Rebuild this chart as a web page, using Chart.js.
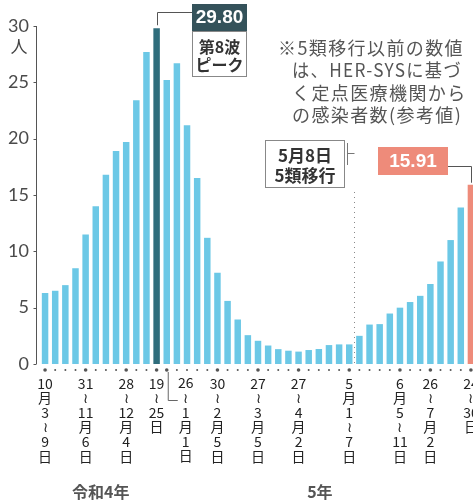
<!DOCTYPE html>
<html><head><meta charset="utf-8">
<script src="https://cdn.jsdelivr.net/npm/chart.js@4/dist/chart.umd.min.js"></script>
<style>html,body{margin:0;padding:0;background:#fff;overflow:hidden;width:473px;height:502px}canvas{display:block}</style>
</head><body><canvas id="c" width="476" height="502"></canvas>
<script>
// weekly infections per sentinel medical institution (persons)
const values = [6.3,6.5,7.0,8.5,11.5,14.0,16.8,18.9,19.7,23.4,
  27.7,29.80,25.2,26.7,21.2,16.5,11.2,8.1,5.6,3.95,
  2.56,2.06,1.64,1.32,1.18,1.1,1.24,1.33,1.68,1.74,
  1.74,2.5,3.5,3.54,4.48,5.0,5.5,6.05,7.1,9.1,
  11.0,13.9,15.91];
const tickLabels = [
  ['10','月','3','≀','9','日'], '', '', '',
  ['31','≀','11','月','6','日'], '', '', '',
  ['28','≀','12','月','4','日'], '', '',
  ['19','≀','25','日'],
  ['26','≀','1','月','1','日'], '', '', '', '',
  ['30','≀','2','月','5','日'], '', '', '',
  ['27','≀','3','月','5','日'], '', '', '',
  ['27','≀','4','月','2','日'], '', '', '', '',
  ['5','月','1','≀','7','日'], '', '', '', '',
  ['6','月','5','≀','11','日'], '', '',
  ['26','≀','7','月','2','日'], '', '', '',
  ['24','≀','30','日']
];
const yTicks = [0,5,10,15,20,25,30];
const yUnit = '人';
const peakIndex = 11;       // 第8波ピーク
const latestIndex = 42;     // latest week
const shiftIndex = 31;      // first week after 5類移行 (5月8日)
const displacedLabelIndex = 12;
const peakLabel = ['第8波','ピーク'];
const shiftLabel = ['5月8日','5類移行'];
const noteLines = ['※5類移行以前の数値','は、HER-SYSに基づ','く定点医療機関から','の感染者数(参考値)'];
const yearLabels = [{text:'令和4年', at:5.5},{text:'5年', at:27.1}];

const C_BAR = '#6cc8e6', C_PEAK = '#2f6d7c', C_LATEST = '#ee8b7a', C_DARKBOX = '#34525a';
const JP = '"Noto Sans CJK JP", sans-serif';
const colors = values.map((v,i)=> i===peakIndex ? C_PEAK : (i===latestIndex ? C_LATEST : C_BAR));

const deco = {
  id:'deco',
  afterDraw(chart){
    const {ctx, chartArea:a, scales:{x,y}} = chart;
    ctx.save();
    const ax = Math.round(a.left - 4) + 0.5;
    const y0 = y.getPixelForValue(0), yTop = y.getPixelForValue(30);
    // y axis line and ticks
    ctx.strokeStyle = '#555'; ctx.lineWidth = 1;
    ctx.beginPath(); ctx.moveTo(ax, yTop); ctx.lineTo(ax, y0);
    yTicks.forEach(t => { const py = Math.round(y.getPixelForValue(t))+0.5; ctx.moveTo(ax-3, py); ctx.lineTo(ax, py); });
    ctx.stroke();
    // unit
    ctx.fillStyle = '#444'; ctx.font = '17px '+JP; ctx.textAlign='center'; ctx.textBaseline='middle';
    ctx.fillText(yUnit, 19, 47);
    // dots under axis
    ctx.fillStyle = '#555';
    values.forEach((v,i)=>{
      const px = x.getPixelForValue(i);
      const big = tickLabels[i] !== '';
      ctx.beginPath(); ctx.arc(px, 370, big?1.8:1.0, 0, Math.PI*2); ctx.fill();
    });
    // displaced label
    const dpx = x.getPixelForValue(displacedLabelIndex);
    ctx.strokeStyle = '#666';
    ctx.beginPath(); ctx.moveTo(dpx+1.5, 372); ctx.lineTo(dpx+1.5, 400.5); ctx.lineTo(dpx+11, 400.5); ctx.stroke();
    ctx.fillStyle = '#222'; ctx.font = '14px '+JP; ctx.textAlign='center'; ctx.textBaseline='middle';
    tickLabels[displacedLabelIndex].forEach((s,k)=> ctx.fillText(s, dpx+19, 383 + k*14.6));
    // peak annotation
    const ppx = x.getPixelForValue(peakIndex), ptop = y.getPixelForValue(values[peakIndex]);
    ctx.strokeStyle = '#555';
    ctx.beginPath(); ctx.moveTo(Math.round(ppx)+0.5, ptop-3); ctx.lineTo(Math.round(ppx)+0.5, 12.5); ctx.lineTo(192, 12.5); ctx.stroke();
    ctx.fillStyle = C_DARKBOX; ctx.fillRect(192, 4, 55, 27);
    ctx.fillStyle = '#fff'; ctx.font = 'bold 19px "Liberation Sans", Arial, sans-serif';
    ctx.fillText(values[peakIndex].toFixed(2), 219.5, 18);
    ctx.fillStyle = '#fff'; ctx.fillRect(192, 31, 55, 46);
    ctx.strokeStyle = '#888'; ctx.strokeRect(192.5, 31.5, 54, 45);
    ctx.fillStyle = '#333'; ctx.font = 'bold 16px '+JP;
    ctx.fillText(peakLabel[0], 219.5, 47); ctx.fillText(peakLabel[1], 219.5, 65);
    // note
    ctx.fillStyle = '#555'; ctx.font = '18px '+JP; ctx.textAlign='left';
    ctx.letterSpacing = '1.4px';
    ctx.fillText(noteLines[0], 278, 48);
    ctx.fillText(noteLines[1], 292, 70, 170);
    ctx.fillText(noteLines[2], 292, 93);
    ctx.fillText(noteLines[3], 292, 115);
    ctx.letterSpacing = '0px';
    // 5類移行 annotation
    const sx = Math.round((x.getPixelForValue(shiftIndex-1)+x.getPixelForValue(shiftIndex))/2)+0.5;
    ctx.fillStyle = '#fff'; ctx.fillRect(265, 140, 80, 48);
    ctx.strokeStyle = '#888'; ctx.strokeRect(265.5, 140.5, 79, 47);
    ctx.fillStyle = '#333'; ctx.font = 'bold 17px '+JP; ctx.textAlign='center';
    ctx.fillText(shiftLabel[0], 305, 156); ctx.fillText(shiftLabel[1], 305, 176);
    ctx.strokeStyle = '#777';
    ctx.beginPath(); ctx.moveTo(347.5, 143); ctx.lineTo(347.5, 165); ctx.moveTo(347.5, 153.5); ctx.lineTo(sx, 153.5); ctx.stroke();
    ctx.setLineDash([1,4]); ctx.strokeStyle = '#888';
    ctx.beginPath(); ctx.moveTo(sx, 192); ctx.lineTo(sx, y0); ctx.stroke();
    ctx.setLineDash([]);
    // latest annotation
    const lpx = x.getPixelForValue(latestIndex), ltop = y.getPixelForValue(values[latestIndex]);
    ctx.fillStyle = C_LATEST; ctx.fillRect(378, 147, 70, 28);
    ctx.fillStyle = '#fff'; ctx.font = 'bold 19px "Liberation Sans", Arial, sans-serif';
    ctx.fillText(values[latestIndex].toFixed(2), 413, 161.5);
    ctx.strokeStyle = '#555';
    ctx.beginPath(); ctx.moveTo(448, 166.5); ctx.lineTo(Math.round(lpx)+0.5, 166.5); ctx.lineTo(Math.round(lpx)+0.5, ltop-2); ctx.stroke();
    // year labels
    ctx.fillStyle = '#555'; ctx.font = 'bold 16px '+JP;
    yearLabels.forEach(l => {
      const i0 = Math.floor(l.at), f = l.at - i0;
      const px = x.getPixelForValue(i0) + f*(x.getPixelForValue(i0+1)-x.getPixelForValue(i0));
      ctx.fillText(l.text, px, 492);
    });
    ctx.restore();
  }
};

new Chart(document.getElementById('c'), {
  type:'bar',
  data:{ labels: tickLabels, datasets:[{ data: values, backgroundColor: colors, borderWidth:0, barPercentage:0.64, categoryPercentage:1 }] },
  options:{
    responsive:false, animation:false, devicePixelRatio:1,
    layout:{ padding:{ top:26, left:0, right:0, bottom:0 } },
    plugins:{ legend:{display:false}, tooltip:{enabled:false} },
    scales:{
      x:{
        grid:{display:false, drawTicks:false}, border:{display:false},
        ticks:{ autoSkip:false, maxRotation:0, minRotation:0, padding:12, color:'#222',
          font:{family:'"Noto Sans CJK JP", sans-serif', size:14, lineHeight:'14.6px'},
          callback:(v,i)=> i===displacedLabelIndex ? '' : tickLabels[i] },
        afterFit:(s)=>{ s.height = 138; s.paddingLeft = 0; s.paddingRight = 0; }
      },
      y:{
        min:0, max:30,
        grid:{display:false, drawTicks:false}, border:{display:false},
        ticks:{ stepSize:5, padding:11, color:'#4a4a4a', font:{family:'Lato, "Open Sans", sans-serif', size:18} },
        afterFit:(s)=>{ s.width = 40; }
      }
    }
  },
  plugins:[deco]
});
</script>
</body></html>
